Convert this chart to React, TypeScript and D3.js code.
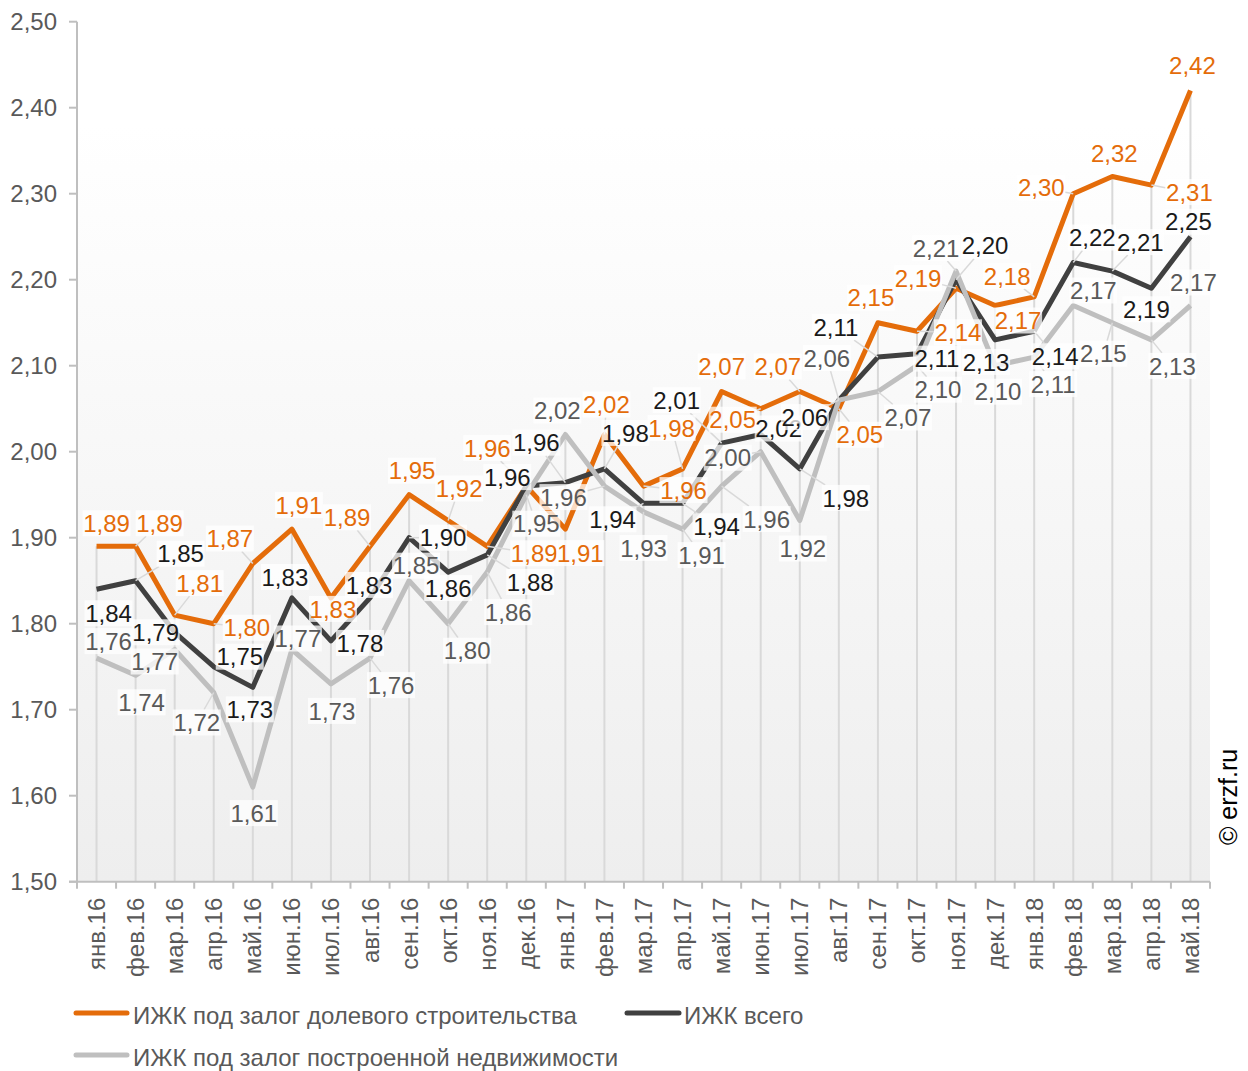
import * as d3 from 'd3'

const months = [
  'янв.16', 'фев.16', 'мар.16', 'апр.16', 'май.16', 'июн.16', 'июл.16', 'авг.16', 'сен.16', 'окт.16',
  'ноя.16', 'дек.16', 'янв.17', 'фев.17', 'мар.17', 'апр.17', 'май.17', 'июн.17', 'июл.17', 'авг.17',
  'сен.17', 'окт.17', 'ноя.17', 'дек.17', 'янв.18', 'фев.18', 'мар.18', 'апр.18', 'май.18'
]

// ИЖК под залог долевого строительства
const dolevoe = [
  1.89, 1.89, 1.81, 1.80, 1.87, 1.91, 1.83, 1.89, 1.95, 1.92,
  1.89, 1.96, 1.91, 2.02, 1.96, 1.98, 2.07, 2.05, 2.07, 2.05,
  2.15, 2.14, 2.19, 2.17, 2.18, 2.30, 2.32, 2.31, 2.42
]

// ИЖК всего
const vsego = [
  1.84, 1.85, 1.79, 1.75, 1.726, 1.83, 1.78, 1.83, 1.90, 1.86,
  1.88, 1.96, 1.964, 1.98, 1.94, 1.94, 2.01, 2.02, 1.98, 2.06,
  2.11, 2.114, 2.20, 2.13, 2.14, 2.22, 2.21, 2.19, 2.25
]

// ИЖК под залог построенной недвижимости
const postroennoe = [
  1.76, 1.74, 1.77, 1.72, 1.61, 1.77, 1.73, 1.76, 1.85, 1.80,
  1.86, 1.95, 2.02, 1.96, 1.93, 1.91, 1.96, 2.00, 1.92, 2.06,
  2.07, 2.10, 2.21, 2.10, 2.11, 2.17, 2.15, 2.13, 2.17
]

const yTicks = [1.5, 1.6, 1.7, 1.8, 1.9, 2.0, 2.1, 2.2, 2.3, 2.4, 2.5]

// hand-placed label offsets (px from the point), as in the original
const dolevoeOffsets: [number, number][] = [
  [10, -23], [24, -23], [25, -32], [33, 4], [-23, -25], [7, -24], [2, 11], [-23, -29], [3, -24], [11, -32],
  [47, 7], [-39, -38], [15, 24], [2, -30], [40, 4], [-11, -41], [0, -25], [-28, 11], [-22, -25], [21, 26],
  [-7, -25], [41, 1], [-38, -10], [23, 15], [-27, -21], [-32, -6], [2, -23], [38, 7], [2, -25]
]
const vsegoOffsets: [number, number][] = [
  [12, 24], [45, -27], [-19, 0], [26, -10], [-3, 22], [-7, -21], [29, 2], [-1, -13], [34, 0], [0, 16],
  [43, 27], [-19, -9], [-29, -40], [21, -36], [-31, 16], [34, 23], [-45, -43], [18, -6], [46, 29], [-34, 17],
  [-42, -30], [20, 5], [29, -34], [-9, 22], [21, 25], [19, -25], [28, -29], [-5, 21], [-2, -15]
]
const postroennoeOffsets: [number, number][] = [
  [12, -17], [6, 27], [-20, 12], [-17, 30], [1, 26], [6, -11], [1, 27], [21, 27], [7, -15], [19, 27],
  [21, 40], [10, 29], [-8, -24], [-41, 11], [0, 36], [19, 26], [45, 33], [-33, 6], [3, 28], [-12, -42],
  [30, 26], [21, 24], [-20, -23], [3, 26], [19, 27], [20, -15], [-9, 31], [21, 26], [3, -23]
]

const ORANGE = '#E46C0A'
const DARK = '#404040'
const GRAY = '#BFBFBF'
const FONT = '"Liberation Sans", Arial, sans-serif'

const series = [
  { name: 'ИЖК под залог долевого строительства', values: dolevoe, offsets: dolevoeOffsets, color: ORANGE, text: ORANGE },
  { name: 'ИЖК всего', values: vsego, offsets: vsegoOffsets, color: DARK, text: '#1a1a1a' },
  { name: 'ИЖК под залог построенной недвижимости', values: postroennoe, offsets: postroennoeOffsets, color: GRAY, text: '#595959' }
]

const W = 1248
const H = 1071
const left = 77
const right = 1210
const top = 21.7
const bottom = 881.7

const fmt = (v: number) => v.toFixed(2).replace('.', ',')

export default function App() {
  const x = d3.scalePoint<string>().domain(months).range([left, right]).padding(0.5)
  const y = d3.scaleLinear().domain([1.5, 2.5]).range([bottom, top])
  const step = x.step()

  const line = d3.line<number>()
    .x((_, i) => x(months[i])!)
    .y(d => y(d))

  const fs = 24
  const labelW = 48
  const labelH = 26

  return (
    <svg width={W} height={H} style={{ position: 'absolute', left: 0, top: 0, fontFamily: FONT }}>
      <defs>
        <linearGradient id="bg" x1="0" y1="0" x2="0" y2="1">
          <stop offset="0" stopColor="#ffffff" />
          <stop offset="0.12" stopColor="#ffffff" />
          <stop offset="1" stopColor="#eeeeee" />
        </linearGradient>
      </defs>
      <rect x={0} y={0} width={W} height={H} fill="#fff" />
      <rect x={left} y={top} width={right - left} height={bottom - top} fill="url(#bg)" />

      {/* drop lines */}
      {months.map((m, i) => {
        const hi = Math.max(dolevoe[i], vsego[i], postroennoe[i])
        return <line key={m} x1={x(m)} x2={x(m)} y1={y(hi)} y2={bottom} stroke="#d9d9d9" strokeWidth={2} />
      })}

      {/* y axis */}
      <line x1={left} x2={left} y1={top} y2={bottom} stroke={GRAY} strokeWidth={2} />
      {yTicks.map(t => (
        <g key={t}>
          <line x1={left - 8} x2={left} y1={y(t)} y2={y(t)} stroke={GRAY} strokeWidth={2} />
          <text x={57} y={y(t)} dy="0.35em" textAnchor="end" fontSize={fs} fill="#595959">{fmt(t)}</text>
        </g>
      ))}

      {/* x axis */}
      <line x1={left - 8} x2={right} y1={bottom} y2={bottom} stroke={GRAY} strokeWidth={2} />
      {d3.range(months.length + 1).map(i => (
        <line key={i} x1={left + i * step} x2={left + i * step} y1={bottom} y2={bottom + 7} stroke={GRAY} strokeWidth={2} />
      ))}
      {months.map(m => (
        <text key={m} transform={`translate(${x(m)! + 8.5},${bottom + 16}) rotate(-90)`} textAnchor="end"
          fontSize={fs} fill="#595959">{m}</text>
      ))}

      {/* lines */}
      {series.map(s => (
        <path key={s.name} d={line(s.values)!} fill="none" stroke={s.color} strokeWidth={5} strokeLinejoin="round" />
      ))}

      {/* leader lines */}
      {series.map(s => s.values.map((v, i) => {
        const px = x(months[i])!
        const py = y(v)
        const [dx, dy] = s.offsets[i]
        if (Math.hypot(dx, dy) < 30) return null
        const t = Math.min(Math.abs(dx) > 0 ? (labelW / 2) / Math.abs(dx) : Infinity,
          Math.abs(dy) > 0 ? (labelH / 2) / Math.abs(dy) : Infinity)
        if (t >= 1) return null
        return <line key={s.name + i} x1={px} y1={py} x2={px + dx * (1 - t)} y2={py + dy * (1 - t)}
          stroke="#d9d9d9" strokeWidth={1.5} />
      }))}

      {/* data labels */}
      {series.map(s => s.values.map((v, i) => {
        const cx = x(months[i])! + s.offsets[i][0]
        const cy = y(v) + s.offsets[i][1]
        return (
          <g key={s.name + 'l' + i}>
            <rect x={cx - labelW / 2} y={cy - labelH / 2} width={labelW} height={labelH} fill="#fff" opacity={0.75} />
            <text x={cx} y={cy} dy="0.36em" textAnchor="middle" fontSize={fs} fill={s.text}>{fmt(v)}</text>
          </g>
        )
      }))}

      {/* legend */}
      <line x1={76} x2={127} y1={1013} y2={1013} stroke={ORANGE} strokeWidth={5} strokeLinecap="round" />
      <text x={133} y={1024} fontSize={fs} fill="#595959">{series[0].name}</text>
      <line x1={627} x2={679} y1={1013} y2={1013} stroke={DARK} strokeWidth={5} strokeLinecap="round" />
      <text x={684} y={1024} fontSize={fs} fill="#595959">{series[1].name}</text>
      <line x1={76} x2={127} y1={1055} y2={1055} stroke={GRAY} strokeWidth={5} strokeLinecap="round" />
      <text x={133} y={1066} fontSize={fs} fill="#595959">{series[2].name}</text>

      <text transform="translate(1237,797) rotate(-90)" textAnchor="middle" fontSize={25} fill="#000">© erzf.ru</text>
    </svg>
  )
}
